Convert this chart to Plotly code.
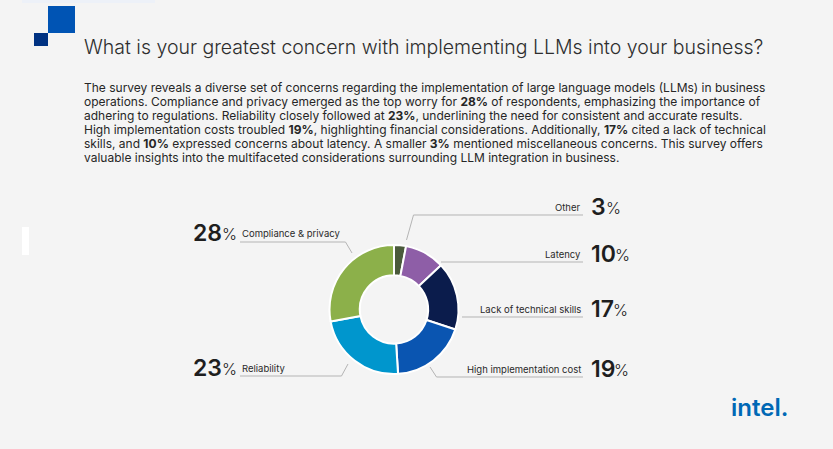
import plotly.graph_objects as go

W, H = 833, 449

categories = ["Other", "Latency", "Lack of technical skills", "High implementation cost", "Reliability", "Compliance & privacy"]
values = [3, 10, 17, 19, 23, 28]
colors = ["#4a5a3b", "#8e5ea7", "#0b1c4c", "#0a55b1", "#0096cd", "#8cb04a"]

title_text = "What is your greatest concern with implementing LLMs into your business?"
body_lines = [
    "The survey reveals a diverse set of concerns regarding the implementation of large language models (LLMs) in business",
    "operations. Compliance and privacy emerged as the top worry for <b>28%</b> of respondents, emphasizing the importance of",
    "adhering to regulations. Reliability closely followed at <b>23%</b>, underlining the need for consistent and accurate results.",
    "High implementation costs troubled <b>19%</b>, highlighting financial considerations. Additionally, <b>17%</b> cited a lack of technical",
    "skills, and <b>10%</b> expressed concerns about latency. A smaller <b>3%</b> mentioned miscellaneous concerns. This survey offers",
    "valuable insights into the multifaceted considerations surrounding LLM integration in business.",
]


def px(x):
    return x / W


def py(y):
    return 1 - y / H


FONT = "Inter"
BG = "#f4f4f4"

# pie geometry (pixels)
cx, cy, r = 394, 309.5, 64.5

fig = go.Figure()
fig.add_trace(go.Pie(
    labels=categories,
    values=values,
    marker=dict(colors=colors, line=dict(color="white", width=2)),
    hole=0.53,
    sort=False,
    direction="clockwise",
    rotation=0,
    textinfo="none",
    hoverinfo="label+percent",
    showlegend=False,
    domain=dict(x=[px(cx - r), px(cx + r)], y=[py(cy + r), py(cy - r)]),
))

shapes = []
# top-left decoration
shapes.append(dict(type="rect", xref="paper", yref="paper", x0=px(22), x1=px(155), y0=py(3), y1=py(0),
                   fillcolor="#edf1f8", line=dict(width=0), layer="below"))
shapes.append(dict(type="rect", xref="paper", yref="paper", x0=px(48), x1=px(75), y0=py(33), y1=py(6),
                   fillcolor="#0054b4", line=dict(width=0)))
shapes.append(dict(type="rect", xref="paper", yref="paper", x0=px(34), x1=px(48), y0=py(46), y1=py(33),
                   fillcolor="#003282", line=dict(width=0)))
shapes.append(dict(type="rect", xref="paper", yref="paper", x0=px(22), x1=px(29), y0=py(255), y1=py(227),
                   fillcolor="#ffffff", line=dict(width=0)))

leaders = [
    [(240, 242), (345.5, 242), (352, 253)],
    [(240, 376), (341.5, 376), (348, 364)],
    [(406.5, 240), (413.5, 215), (583, 215)],
    [(441, 262), (583, 262)],
    [(462, 317), (583, 317)],
    [(430, 367), (436.5, 377), (583, 377)],
]
for pts in leaders:
    path = "M " + " L ".join(f"{px(x):.5f},{py(y):.5f}" for x, y in pts)
    shapes.append(dict(type="path", xref="paper", yref="paper", path=path,
                       line=dict(color="#b4b4b4", width=1)))

ann = []
ann.append(dict(x=px(82), y=py(47), xref="paper", yref="paper", xanchor="left", yanchor="middle",
                text=title_text, showarrow=False,
                font=dict(family=FONT, size=19.5, color="#2e2e2e", weight=300)))
for i, line in enumerate(body_lines):
    ann.append(dict(x=px(82), y=py(87 + 14 * i), xref="paper", yref="paper", xanchor="left", yanchor="middle",
                    text=line, showarrow=False,
                    font=dict(family=FONT, size=12, color="#262626")))

# left labels: (number, label, y)
left_labels = [("28", "Compliance & privacy", 233), ("23", "Reliability", 368)]
for num, lab, y in left_labels:
    ann.append(dict(x=px(191), y=py(y), xref="paper", yref="paper", xanchor="left", yanchor="middle",
                    text=num, showarrow=False, font=dict(family=FONT, size=23, color="#1e1e1e", weight=600)))
    ann.append(dict(x=px(220), y=py(y + 1), xref="paper", yref="paper", xanchor="left", yanchor="middle",
                    text="%", showarrow=False, font=dict(family=FONT, size=16, color="#222222", weight=300)))
    ann.append(dict(x=px(240), y=py(y), xref="paper", yref="paper", xanchor="left", yanchor="middle",
                    text=lab, showarrow=False, font=dict(family=FONT, size=9.5, color="#2a2a2a")))

right_labels = [("3", "Other", 207, 604), ("10", "Latency", 254, 613),
                ("17", "Lack of technical skills", 309, 611), ("19", "High implementation cost", 369, 612)]
for num, lab, y, pctx in right_labels:
    ann.append(dict(x=px(583), y=py(y), xref="paper", yref="paper", xanchor="right", yanchor="middle",
                    text=lab, showarrow=False, font=dict(family=FONT, size=9.5, color="#2a2a2a")))
    ann.append(dict(x=px(589), y=py(y), xref="paper", yref="paper", xanchor="left", yanchor="middle",
                    text=num, showarrow=False, font=dict(family=FONT, size=23, color="#1e1e1e", weight=600)))
    ann.append(dict(x=px(pctx), y=py(y + 1), xref="paper", yref="paper", xanchor="left", yanchor="middle",
                    text="%", showarrow=False, font=dict(family=FONT, size=16, color="#222222", weight=300)))

# intel logo text
ann.append(dict(x=px(729), y=py(407), xref="paper", yref="paper", xanchor="left", yanchor="middle",
                text="intel.", showarrow=False, font=dict(family=FONT, size=24, color="#0068b5", weight=600)))

fig.update_layout(
    width=W, height=H,
    margin=dict(l=0, r=0, t=0, b=0),
    paper_bgcolor=BG, plot_bgcolor=BG,
    shapes=shapes, annotations=ann,
)

fig.write_html("out.html", config={"displayModeBar": False},
               post_script="document.body.style.margin='0';document.body.style.background='#f4f4f4';")
